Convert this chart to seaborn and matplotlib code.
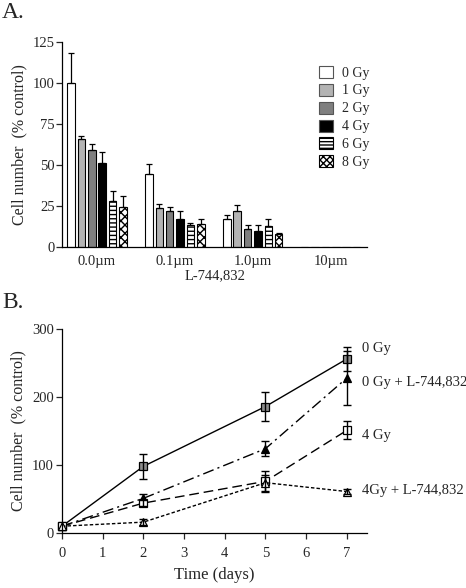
import numpy as np
import pandas as pd
import matplotlib
matplotlib.use("Agg")
import matplotlib.pyplot as plt
from matplotlib.patches import Patch
import seaborn as sns

# ---------------- Data: panel A ----------------
concentrations = ["0.0\u00b5m", "0.1\u00b5m", "1.0\u00b5m", "10\u00b5m"]
doses = ["0 Gy", "1 Gy", "2 Gy", "4 Gy", "6 Gy", "8 Gy"]
# values per dose across concentrations
vals_0gy = [100.0, 44.5, 17.0, 0.0]
vals_1gy = [65.5, 23.5, 22.0, 0.0]
vals_2gy = [58.8, 21.6, 10.8, 0.0]
vals_4gy = [51.3, 17.0, 9.8, 0.0]
vals_6gy = [28.3, 13.3, 13.0, 0.0]
vals_8gy = [24.5, 14.0, 8.0, 0.0]
err_0gy = [18.0, 6.0, 2.5, 0.0]
err_1gy = [1.8, 2.8, 3.8, 0.0]
err_2gy = [3.7, 2.9, 2.5, 0.0]
err_4gy = [6.8, 4.6, 3.5, 0.0]
err_6gy = [5.7, 1.4, 3.9, 0.0]
err_8gy = [6.7, 2.9, 0.8, 0.0]

# ---------------- Data: panel B ----------------
days = [0, 2, 5, 7]
series_names = ["0 Gy", "0 Gy + L-744,832", "4 Gy", "4Gy + L-744,832"]
y_0gy = [10, 98, 186, 256]
e_0gy = [2, 18, 21, 18]
y_0gyL = [10, 51, 124, 228]
e_0gyL = [2, 6, 11, 40]
y_4gy = [10, 44, 76, 151]
e_4gy = [2, 5, 15, 13]
y_4gyL = [10, 16, 74, 61]
e_4gyL = [2, 4, 12, 4]

plt.rcParams["font.family"] = ["Liberation Serif", "DejaVu Serif"]
plt.rcParams["hatch.linewidth"] = 1.0
sns.set_style("ticks")
plt.rcParams["font.family"] = ["Liberation Serif", "DejaVu Serif"]

fig = plt.figure(figsize=(4.66, 5.88), dpi=100)
axA = fig.add_axes([0.133, 0.580, 0.655, 0.349])
axB = fig.add_axes([0.133, 0.0935, 0.655, 0.347])

# ---------------- Panel A ----------------
all_vals = [vals_0gy, vals_1gy, vals_2gy, vals_4gy, vals_6gy, vals_8gy]
all_errs = [err_0gy, err_1gy, err_2gy, err_4gy, err_6gy, err_8gy]
rows = []
for d, vs in zip(doses, all_vals):
    for c, v in zip(concentrations, vs):
        rows.append({"conc": c, "dose": d, "val": v})
dfA = pd.DataFrame(rows)

face = ["white", "#b3b3b3", "#7f7f7f", "black", "white", "white"]
hatches = ["", "", "", "", "----", "xxxx"]
sns.barplot(data=dfA, x="conc", y="val", hue="dose", order=concentrations,
            hue_order=doses, palette=face, width=0.8, gap=0.28,
            edgecolor="black", linewidth=0.8, errorbar=None, ax=axA,
            legend=False, saturation=1)

for cont, errs, h in zip(axA.containers, all_errs, hatches):
    xs, ys = [], []
    for bar in cont.patches:
        bar.set_hatch(h)
        bar.set_edgecolor("black")
        xs.append(bar.get_x() + bar.get_width() / 2)
        ys.append(bar.get_height())
    xs = np.array(xs); ys = np.array(ys); errs = np.array(errs)
    m = ys > 0
    axA.errorbar(xs[m], ys[m], yerr=[np.zeros(m.sum()), errs[m]], fmt="none",
                 ecolor="black", elinewidth=0.9, capsize=2.5, capthick=0.9)

axA.set_xlim(-0.45, 3.47)
axA.set_ylim(0, 125)
axA.set_yticks([0, 25, 50, 75, 100, 125])
axA.set_ylabel("Cell number  (% control)", fontsize=11.5)
axA.set_xlabel("L-744,832", fontsize=10.5, labelpad=1)
axA.tick_params(axis="x", length=0, labelsize=10.5, pad=6)
axA.tick_params(axis="y", length=4, width=0.9, labelsize=10.5, pad=1)
sns.despine(ax=axA)
for s in ["left", "bottom"]:
    axA.spines[s].set_linewidth(0.9)
    axA.spines[s].set_color("black")

handles = [Patch(facecolor=f, edgecolor="#555555", hatch=h, linewidth=0.8)
           for f, h in zip(face, hatches)]
handles[4] = Patch(facecolor="white", edgecolor="black", hatch="-----", linewidth=0.8)
handles[5] = Patch(facecolor="white", edgecolor="black", hatch="xxxxx", linewidth=0.8)
axA.legend(handles=handles, labels=doses, loc="upper left",
           bbox_to_anchor=(0.825, 0.91), frameon=False, fontsize=10,
           handlelength=1.0, handleheight=0.95, handletextpad=0.6,
           labelspacing=0.3, borderaxespad=0)

# ---------------- Panel B ----------------
ys_all = [y_0gy, y_0gyL, y_4gy, y_4gyL]
es_all = [e_0gy, e_0gyL, e_4gy, e_4gyL]
styles = ["-", (0, (8, 3, 1.5, 3)), (0, (7, 3.5)), (0, (2.5, 1.5))]
markers = ["s", "^", "s", "^"]
mfc = ["#8c8c8c", "black", "white", "white"]
label_y = [272, 222, 143, 63]

for name, yv, ev, ls, mk, fc, ly in zip(series_names, ys_all, es_all, styles,
                                        markers, mfc, label_y):
    sns.lineplot(x=days, y=yv, ax=axB, color="black", linestyle=ls, linewidth=1.0,
                 marker=mk, markersize=5.5, markerfacecolor=fc,
                 markeredgecolor="black", markeredgewidth=0.9, clip_on=False)
    axB.errorbar(days[1:], yv[1:], yerr=ev[1:], fmt="none", ecolor="black",
                 elinewidth=1.0, capsize=3, capthick=1.0, clip_on=False)
    axB.text(7.36, ly, name, fontsize=10.5, va="center", ha="left")

axB.set_xlim(0, 7.5)
axB.set_ylim(0, 300)
axB.set_xticks(range(8))
axB.set_yticks([0, 100, 200, 300])
axB.set_xlabel("Time (days)", fontsize=12, labelpad=5)
axB.set_ylabel("Cell number  (% control)", fontsize=11.5)
axB.tick_params(axis="x", length=4, width=0.9, labelsize=10.5, pad=6)
axB.tick_params(axis="y", length=4, width=0.9, labelsize=10.5, pad=2)
sns.despine(ax=axB)
for s in ["left", "bottom"]:
    axB.spines[s].set_linewidth(0.9)
    axB.spines[s].set_color("black")

fig.text(0.004, 0.997, "A.", fontsize=17, va="top", ha="left")
fig.text(0.004, 0.503, "B.", fontsize=17, va="top", ha="left")

fig.savefig("out.png", dpi=100)
